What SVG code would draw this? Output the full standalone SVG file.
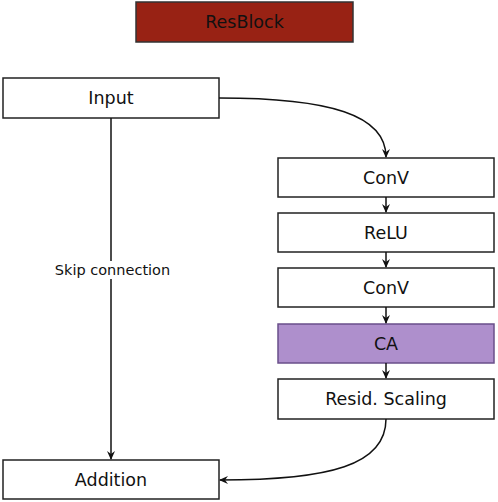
<svg xmlns="http://www.w3.org/2000/svg" width="498" height="502" viewBox="0 0 498 502">
<defs>
<marker id="ah" markerWidth="10" markerHeight="10" refX="8" refY="5" orient="auto" markerUnits="userSpaceOnUse">
<path d="M0,1 L9,5 L0,9 L3,5 Z" fill="#111"/>
</marker>
<style>
.box{fill:#fff;stroke:#222;stroke-width:1.5}
.t{font-family:"DejaVu Sans","Liberation Sans",Arial,sans-serif;font-size:17.5px;fill:#111;text-anchor:middle;dominant-baseline:central}
.c{fill:none;stroke:#111;stroke-width:1.5;marker-end:url(#ah)}
</style>
</defs>
<g id="resblock"><rect x="136" y="2" width="217" height="40" fill="#982214" stroke="#333" stroke-width="1.5"/><text class="t" x="244.5" y="22">ResBlock</text></g>
<g id="input"><rect class="box" x="3" y="78" width="216" height="40"/><text class="t" x="111" y="98">Input</text></g>
<g id="conv1"><rect class="box" x="278" y="158" width="216" height="39"/><text class="t" x="386" y="177.5">ConV</text></g>
<g id="relu"><rect class="box" x="278" y="213" width="216" height="39"/><text class="t" x="386" y="232.5">ReLU</text></g>
<g id="conv2"><rect class="box" x="278" y="268" width="216" height="39"/><text class="t" x="386" y="287.5">ConV</text></g>
<g id="ca"><rect x="278" y="324" width="216" height="39" fill="#ae8fcc" stroke="#6a4f8a" stroke-width="1.5"/><text class="t" x="386" y="343.5">CA</text></g>
<g id="scaling"><rect class="box" x="278" y="379" width="216" height="40"/><text class="t" x="386" y="399">Resid. Scaling</text></g>
<g id="addition"><rect class="box" x="3" y="460" width="216" height="39"/><text class="t" x="111" y="479.5">Addition</text></g>
<g id="connectors">
<path class="c" d="M219,98 C330,98 386,115 386,157"/>
<path class="c" d="M111,118 L111,459"/>
<path class="c" d="M386,197 L386,212"/>
<path class="c" d="M386,252 L386,267"/>
<path class="c" d="M386,307 L386,323"/>
<path class="c" d="M386,363 L386,378"/>
<path class="c" d="M386,419 C386,465 330,480 220,480"/>
<rect x="54" y="261" width="118" height="18" fill="#fff"/>
<text x="112.5" y="270" font-family="'DejaVu Sans','Liberation Sans',Arial,sans-serif" font-size="14.5" fill="#111" text-anchor="middle" dominant-baseline="central">Skip connection</text>
</g>
</svg>
